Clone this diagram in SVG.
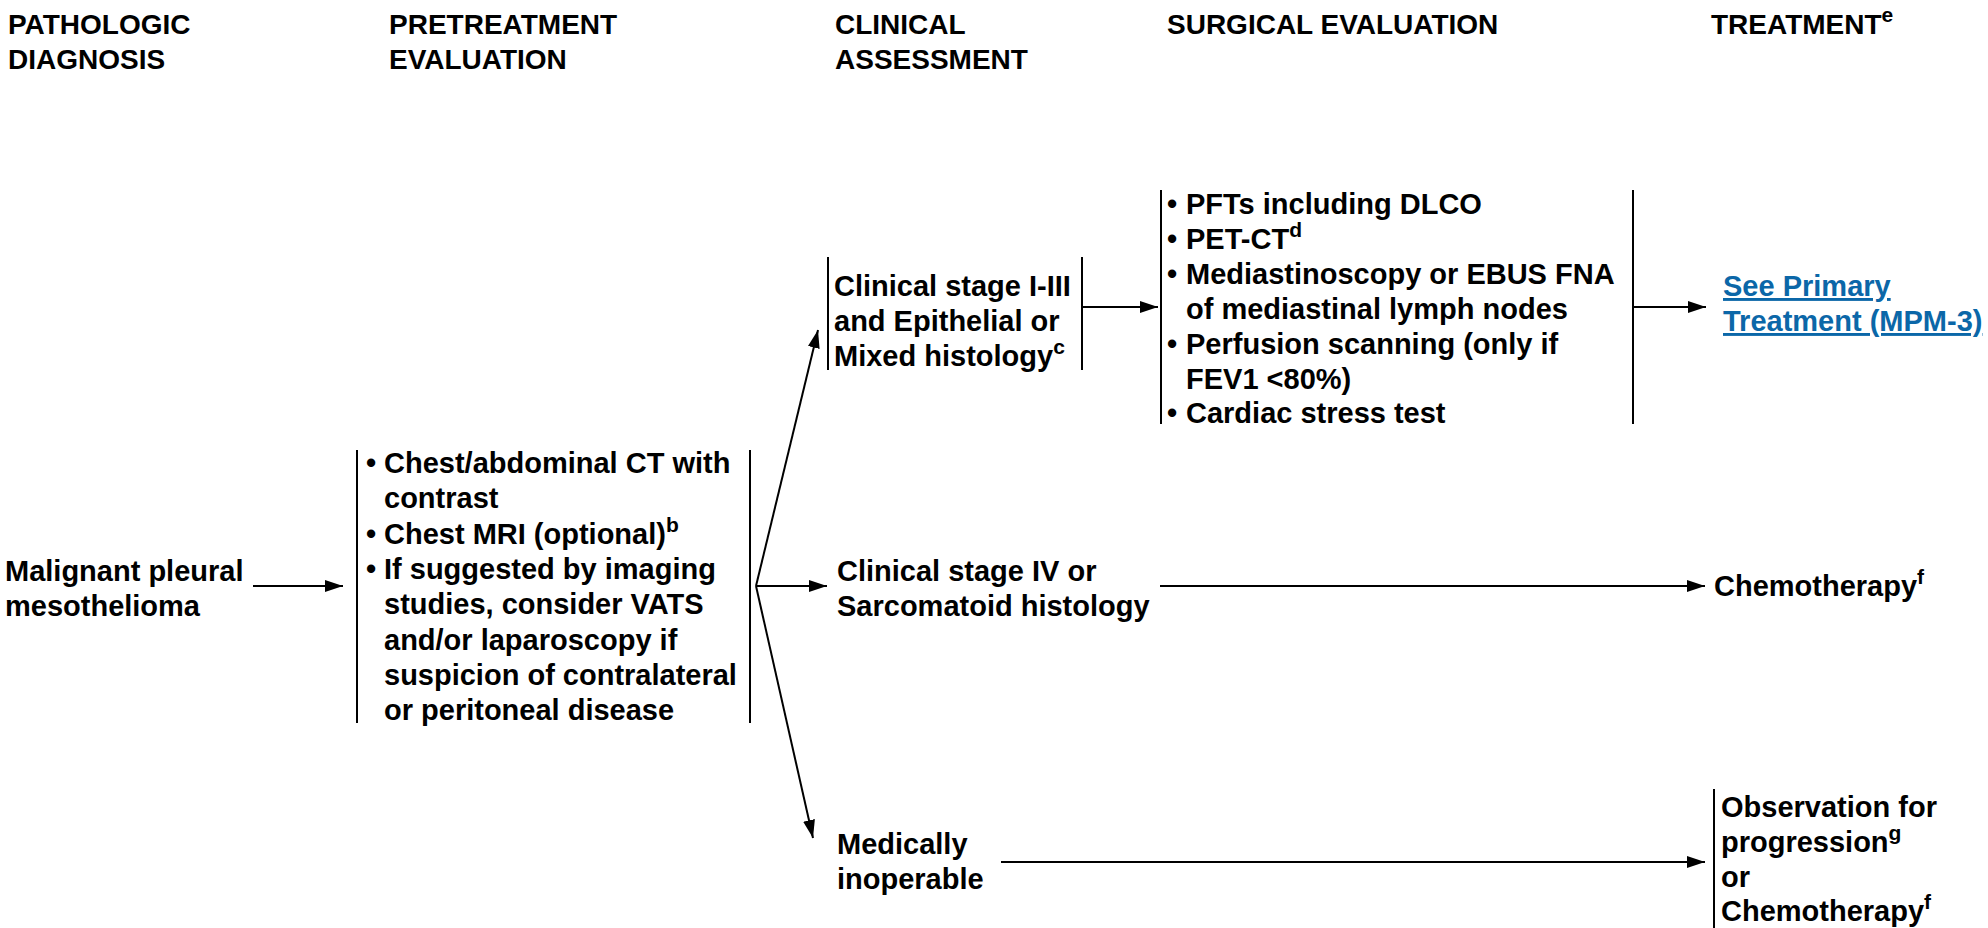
<svg xmlns="http://www.w3.org/2000/svg" width="1988" height="928" viewBox="0 0 1988 928">
<defs>
<style>
text{font-family:"Liberation Sans",Arial,Helvetica,sans-serif;font-weight:bold;fill:#000}
.h{font-size:28px}
.b{font-size:29px}
.sup{font-size:21px}
.link{fill:#0b67a8;text-decoration:underline}
.br{stroke:#000;stroke-width:2;fill:none}
.c{stroke:#000;stroke-width:2;fill:none}
</style>
<marker id="ah" markerUnits="userSpaceOnUse" markerWidth="18" markerHeight="12" refX="18" refY="6" orient="auto">
<path d="M0,0 L18,6 L0,12 Z" fill="#000"/>
</marker>
</defs>
<rect width="1988" height="928" fill="#fff"/>

<g id="headers">
<text class="h" x="8" y="34">PATHOLOGIC</text>
<text class="h" x="8" y="69">DIAGNOSIS</text>
<text class="h" x="389" y="34">PRETREATMENT</text>
<text class="h" x="389" y="69">EVALUATION</text>
<text class="h" x="835" y="34">CLINICAL</text>
<text class="h" x="835" y="69">ASSESSMENT</text>
<text class="h" x="1167" y="34">SURGICAL EVALUATION</text>
<text class="h" x="1711" y="34">TREATMENT<tspan class="sup" dy="-12">e</tspan></text>
</g>

<g id="connectors">
<line class="c" x1="253" y1="586" x2="343" y2="586" marker-end="url(#ah)"/>
<line class="c" x1="756" y1="586" x2="818" y2="330" marker-end="url(#ah)"/>
<line class="c" x1="756" y1="586" x2="827" y2="586" marker-end="url(#ah)"/>
<line class="c" x1="756" y1="586" x2="813" y2="838" marker-end="url(#ah)"/>
<line class="c" x1="1082" y1="307" x2="1158" y2="307" marker-end="url(#ah)"/>
<line class="c" x1="1633" y1="307" x2="1706" y2="307" marker-end="url(#ah)"/>
<line class="c" x1="1160" y1="586" x2="1705" y2="586" marker-end="url(#ah)"/>
<line class="c" x1="1001" y1="862" x2="1705" y2="862" marker-end="url(#ah)"/>
</g>

<g id="node-diagnosis">
<text class="b" x="5" y="581">Malignant pleural</text>
<text class="b" x="5" y="616">mesothelioma</text>
</g>

<g id="node-pretreatment">
<line class="br" x1="357" y1="450" x2="357" y2="723"/>
<line class="br" x1="750" y1="450" x2="750" y2="723"/>
<text class="b" x="366" y="473">•</text>
<text class="b" x="384" y="473">Chest/abdominal CT with</text>
<text class="b" x="384" y="508">contrast</text>
<text class="b" x="366" y="544">•</text>
<text class="b" x="384" y="544">Chest MRI (optional)<tspan class="sup" dy="-12">b</tspan></text>
<text class="b" x="366" y="579">•</text>
<text class="b" x="384" y="579">If suggested by imaging</text>
<text class="b" x="384" y="614">studies, consider VATS</text>
<text class="b" x="384" y="650">and/or laparoscopy if</text>
<text class="b" x="384" y="685">suspicion of contralateral</text>
<text class="b" x="384" y="720">or peritoneal disease</text>
</g>

<g id="node-stage-1-3">
<line class="br" x1="828" y1="257" x2="828" y2="370"/>
<line class="br" x1="1082" y1="257" x2="1082" y2="370"/>
<text class="b" x="834" y="296">Clinical stage I-III</text>
<text class="b" x="834" y="331">and Epithelial or</text>
<text class="b" x="834" y="366">Mixed histology<tspan class="sup" dy="-12">c</tspan></text>
</g>

<g id="node-surgical">
<line class="br" x1="1161" y1="190" x2="1161" y2="424"/>
<line class="br" x1="1633" y1="190" x2="1633" y2="424"/>
<text class="b" x="1167" y="214">•</text>
<text class="b" x="1186" y="214">PFTs including DLCO</text>
<text class="b" x="1167" y="249">•</text>
<text class="b" x="1186" y="249">PET-CT<tspan class="sup" dy="-12">d</tspan></text>
<text class="b" x="1167" y="284">•</text>
<text class="b" x="1186" y="284">Mediastinoscopy or EBUS FNA</text>
<text class="b" x="1186" y="319">of mediastinal lymph nodes</text>
<text class="b" x="1167" y="354">•</text>
<text class="b" x="1186" y="354">Perfusion scanning (only if</text>
<text class="b" x="1186" y="389">FEV1 &lt;80%)</text>
<text class="b" x="1167" y="423">•</text>
<text class="b" x="1186" y="423">Cardiac stress test</text>
</g>

<g id="node-primary-treatment">
<text class="b link" x="1723" y="296">See Primary</text>
<text class="b link" x="1723" y="331">Treatment (MPM-3)</text>
</g>

<g id="node-stage-4">
<text class="b" x="837" y="581">Clinical stage IV or</text>
<text class="b" x="837" y="616">Sarcomatoid histology</text>
</g>

<g id="node-chemo">
<text class="b" x="1714" y="596">Chemotherapy<tspan class="sup" dy="-12">f</tspan></text>
</g>

<g id="node-inoperable">
<text class="b" x="837" y="854">Medically</text>
<text class="b" x="837" y="889">inoperable</text>
</g>

<g id="node-observation">
<line class="br" x1="1714" y1="789" x2="1714" y2="928"/>
<text class="b" x="1721" y="817">Observation for</text>
<text class="b" x="1721" y="852">progression<tspan class="sup" dy="-12">g</tspan></text>
<text class="b" x="1721" y="887">or</text>
<text class="b" x="1721" y="921">Chemotherapy<tspan class="sup" dy="-12">f</tspan></text>
</g>
</svg>
